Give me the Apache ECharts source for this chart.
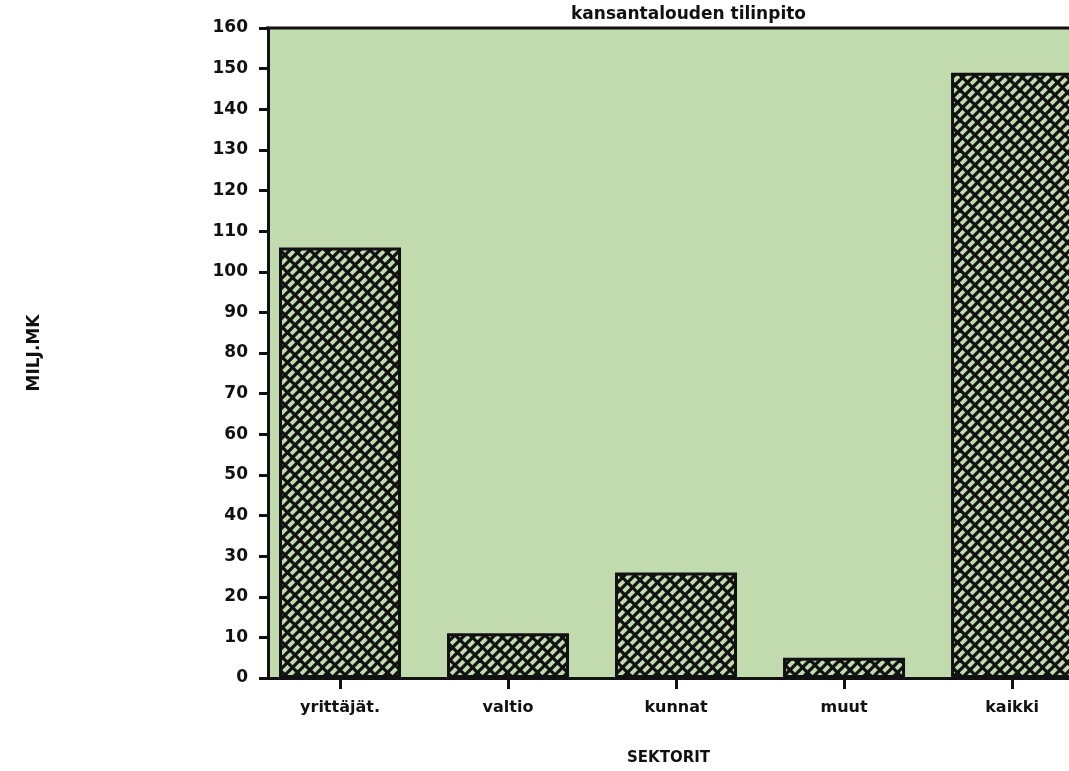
<!DOCTYPE html>
<html>
<head>
<meta charset="utf-8">
<script src="https://cdn.jsdelivr.net/npm/echarts@6/dist/echarts.min.js"></script>
<style>
  html, body { margin: 0; padding: 0; background: #fff; }
  #chart { width: 1069px; height: 771px; }
</style>
</head>
<body>
<div id="chart"></div>
<script>
var titleText = "kansantalouden tilinpito";
var categories = ["yrittäjät.", "valtio", "kunnat", "muut", "kaikki"];
var values = [106, 11, 26, 5, 149];
var categoryPos = [1, 2, 3, 4, 5];

// cross-hatch fill used on the bars: "/" lines every 10px, "\" lines every 15px
function makeHatch() {
    var n = 30, e = 6;
    var c = document.createElement("canvas");
    c.width = n;
    c.height = n;
    var ctx = c.getContext("2d");
    ctx.fillStyle = "#c1dbaf";
    ctx.fillRect(0, 0, n, n);
    ctx.strokeStyle = "#111";
    ctx.lineWidth = 3.2;
    var k;
    // lines run past the tile edge so the ends don't leave seams
    for (k = -n; k <= 2 * n; k += 10) {
        ctx.beginPath();
        ctx.moveTo(k + n + e, -e); ctx.lineTo(k - e, n + e);
        ctx.stroke();
    }
    for (k = -n; k <= 2 * n; k += 15) {
        ctx.beginPath();
        ctx.moveTo(k - e, -e); ctx.lineTo(k + n + e, n + e);
        ctx.stroke();
    }
    return c;
}

var font = "DejaVu Sans";
var chart = echarts.init(document.getElementById("chart"));
chart.setOption({
    animation: false,
    title: {
        text: titleText,
        left: 566,
        top: 1,
        textStyle: { fontFamily: font, fontSize: 17, fontWeight: "bold", color: "#111" }
    },
    grid: {
        left: 268, top: 28, right: 0, bottom: 87,
        show: true, backgroundColor: "#c1dbaf", borderWidth: 0
    },
    xAxis: {
        type: "value",
        min: 0.5714,
        max: 5.339,
        name: "SEKTORIT",
        nameLocation: "middle",
        nameGap: 73,
        nameTextStyle: { fontFamily: font, fontSize: 15, fontWeight: "bold", color: "#111" },
        splitLine: { show: false },
        axisLine: { show: true, lineStyle: { color: "#111", width: 3 } },
        axisTick: { show: true, customValues: categoryPos, length: 11, lineStyle: { color: "#111", width: 3 } },
        axisLabel: {
            customValues: categoryPos,
            margin: 22,
            fontFamily: font, fontSize: 16, fontWeight: "bold", color: "#111",
            formatter: function (v) { return categories[Math.round(v) - 1]; }
        }
    },
    yAxis: [{
        type: "value",
        min: 0,
        max: 160,
        interval: 10,
        name: "MILJ.MK",
        nameLocation: "middle",
        nameGap: 225,
        nameTextStyle: { fontFamily: font, fontSize: 17, fontWeight: "bold", color: "#111" },
        splitLine: { show: false },
        axisLine: { show: true, lineStyle: { color: "#111", width: 3 } },
        axisTick: { show: true, length: 9, lineStyle: { color: "#111", width: 3 } },
        axisLabel: { margin: 20, fontFamily: font, fontSize: 17, fontWeight: "bold", color: "#111" }
    }],
    graphic: [{
        type: "line",
        shape: { x1: 266, y1: 28, x2: 1069, y2: 28 },
        style: { stroke: "#111", lineWidth: 3 }
    }],
    series: [{
        type: "bar",
        barWidth: 122,
        data: categoryPos.map(function (p, i) { return [p, values[i]]; }),
        itemStyle: {
            color: { image: makeHatch(), repeat: "repeat" },
            borderColor: "#111",
            borderWidth: 3
        }
    }]
});
</script>
</body>
</html>
